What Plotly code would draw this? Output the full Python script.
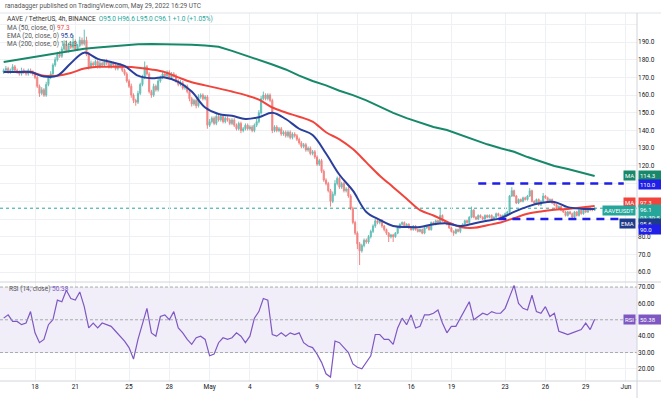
import plotly.graph_objects as go
import pandas as pd

# ---------------- data ----------------
first_candle = "2022-04-15 16:00"
first_open = 173.0
closes = [
    174, 175, 173, 174, 176, 174,
    173, 172, 174, 173, 172, 174,
    173, 172, 170, 165, 161, 163,
    160, 166, 170, 172, 177, 180,
    183, 182, 186, 189, 185, 188,
    187, 190, 186, 188, 191, 189,
    191, 183, 176, 178, 177, 179,
    176, 178, 177, 179, 178, 176,
    178, 177, 175, 177, 176, 174,
    172, 168, 165, 160, 157, 156,
    161, 166, 170, 176, 172, 162,
    160, 165, 163, 168, 170, 172,
    171, 173, 170, 172, 171, 168,
    166, 167, 164, 165, 162, 158,
    155, 157, 154, 159, 160, 158,
    159, 143, 145, 147, 144, 148,
    146, 148, 145, 147, 146, 144,
    146, 143, 141, 144, 140, 141,
    143, 141, 142, 140, 143, 145,
    150, 158, 160, 158, 160, 157,
    140, 142, 140, 141, 138, 139,
    137, 139, 136, 138, 137, 135,
    133, 131, 132, 129, 130, 127,
    128, 125, 121, 123, 117, 112,
    110, 106, 100, 104, 110, 113,
    108, 110, 106, 107, 103, 96,
    88, 82, 76, 72, 75, 78,
    77, 80, 83, 86, 89, 88,
    89, 86, 84, 82, 80, 81,
    80, 82, 85, 87, 88, 86,
    87, 85, 84, 86, 84, 83,
    84, 82, 85, 86, 84, 88,
    87, 89, 88, 92, 89, 88,
    87, 85, 83, 82, 84, 83,
    86, 87, 89, 88, 91, 95,
    91, 90, 92, 91, 90, 92,
    91, 92, 90, 91, 93, 92,
    91, 92, 93, 94, 103, 106,
    103, 99, 101, 100, 102, 101,
    103, 106, 100, 99, 101, 98,
    100, 103, 102, 100, 101, 99,
    98, 96, 97, 95, 94, 92,
    94, 93, 91, 94, 92, 95,
    93, 95, 94, 96, 95, 95,
    96.1,
]
upper_wick = [
    1.0, 1.5, 1.0, 1.0, 1.5, 1.0,
    1.0, 1.0, 1.5, 1.0, 1.0, 1.0,
    1.0, 1.0, 1.0, 1.0, 1.0, 1.5,
    1.0, 1.5, 1.0, 1.5, 1.0, 1.5,
    1.5, 2.0, 1.5, 2.0, 2.0, 1.5,
    2.0, 4.0, 1.5, 1.0, 2.0, 1.5,
    6.0, 2.0, 1.5, 1.5, 1.0, 1.0,
    1.0, 1.5, 1.0, 1.0, 1.5, 1.0,
    1.0, 1.0, 1.5, 1.0, 1.0, 1.0,
    1.0, 1.0, 1.0, 1.5, 1.0, 1.0,
    1.5, 1.0, 1.5, 3.0, 1.0, 1.0,
    1.0, 1.5, 1.0, 1.5, 1.0, 1.0,
    1.5, 1.0, 1.0, 1.0, 1.0, 1.0,
    1.0, 1.5, 1.0, 1.0, 1.0, 1.0,
    1.0, 1.0, 1.0, 1.5, 1.0, 1.0,
    1.0, 1.0, 1.5, 1.0, 1.0, 1.5,
    1.0, 1.0, 1.0, 1.0, 1.0, 1.0,
    1.0, 1.0, 1.0, 1.0, 1.0, 1.0,
    1.0, 1.0, 1.0, 1.0, 1.0, 1.5,
    1.5, 1.5, 2.0, 1.0, 1.0, 1.0,
    1.0, 1.0, 1.0, 1.0, 1.0, 1.0,
    1.0, 1.0, 1.0, 1.0, 1.0, 1.0,
    1.0, 1.0, 1.0, 1.0, 1.0, 1.0,
    1.0, 1.0, 1.0, 1.0, 1.0, 1.0,
    1.0, 1.0, 1.0, 1.5, 2.0, 1.0,
    1.0, 1.0, 1.0, 1.0, 1.0, 1.0,
    1.0, 1.0, 1.0, 1.0, 1.0, 1.0,
    1.0, 1.0, 1.0, 1.0, 1.0, 1.0,
    1.0, 1.0, 0.6, 0.6, 0.6, 0.6,
    0.6, 0.6, 0.6, 0.6, 0.6, 0.6,
    0.6, 0.6, 0.6, 0.6, 0.6, 0.6,
    0.6, 0.6, 0.6, 0.6, 0.6, 0.6,
    0.6, 0.6, 0.6, 4.0, 0.6, 0.6,
    0.6, 0.6, 0.6, 0.6, 0.6, 0.6,
    0.6, 0.6, 0.6, 0.6, 0.6, 2.0,
    0.6, 0.6, 0.6, 0.6, 0.6, 0.6,
    0.6, 0.6, 0.6, 0.6, 0.6, 0.6,
    0.6, 0.6, 0.6, 0.6, 0.6, 2.0,
    0.6, 0.6, 0.6, 0.6, 0.6, 0.6,
    0.6, 1.5, 0.6, 0.6, 0.6, 0.6,
    0.6, 1.7, 0.6, 0.6, 0.6, 0.6,
    0.6, 0.6, 0.6, 0.6, 0.6, 0.6,
    0.6, 0.6, 0.6, 0.6, 0.6, 0.6,
    0.6, 0.6, 0.6, 0.6, 0.6, 0.6,
    0.5,
]
lower_wick = [
    1.0, 1.0, 1.0, 1.0, 1.0, 1.0,
    1.0, 1.0, 1.0, 1.0, 1.0, 1.0,
    1.0, 1.0, 1.0, 1.0, 2.0, 1.0,
    1.0, 1.0, 1.0, 1.0, 1.0, 1.0,
    1.0, 1.0, 1.0, 1.0, 1.0, 1.0,
    1.0, 1.0, 1.0, 1.0, 1.0, 1.0,
    1.0, 1.0, 1.5, 1.0, 1.0, 1.0,
    1.0, 1.0, 1.0, 1.0, 1.0, 1.0,
    1.0, 1.0, 1.0, 1.0, 1.0, 1.0,
    1.0, 1.0, 1.0, 1.5, 1.5, 2.0,
    1.0, 1.0, 1.0, 1.0, 1.0, 1.0,
    1.5, 1.0, 1.0, 1.0, 1.0, 1.0,
    1.0, 1.0, 1.0, 1.0, 1.0, 1.0,
    1.0, 1.0, 1.0, 1.0, 1.0, 1.5,
    1.5, 1.0, 1.5, 1.0, 1.0, 1.0,
    1.0, 2.0, 1.0, 1.0, 1.0, 1.0,
    1.0, 1.0, 1.0, 1.0, 1.0, 1.0,
    1.0, 1.0, 1.0, 1.0, 1.5, 1.0,
    1.0, 1.0, 1.0, 1.0, 1.0, 1.0,
    1.0, 1.0, 1.0, 1.0, 1.0, 1.0,
    1.5, 1.0, 1.0, 1.0, 1.0, 1.0,
    1.0, 1.0, 1.0, 1.0, 1.0, 1.0,
    1.0, 1.0, 1.0, 1.0, 1.0, 1.0,
    1.0, 1.0, 1.0, 1.0, 1.0, 1.0,
    1.0, 1.0, 3.0, 1.0, 1.0, 1.0,
    1.0, 1.0, 1.0, 1.0, 1.0, 1.0,
    1.0, 1.0, 3.0, 8.0, 1.0, 1.0,
    1.0, 1.0, 1.0, 1.0, 1.0, 1.0,
    1.0, 1.0, 1.0, 1.0, 3.0, 1.0,
    3.0, 0.6, 0.6, 0.6, 0.6, 0.6,
    0.6, 0.6, 0.6, 0.6, 0.6, 0.6,
    0.6, 0.6, 0.6, 0.6, 0.6, 0.6,
    0.6, 0.6, 0.6, 0.6, 0.6, 0.6,
    0.6, 0.6, 0.6, 1.5, 0.6, 0.6,
    1.0, 0.6, 0.6, 0.6, 0.6, 0.6,
    0.6, 0.6, 0.6, 0.6, 0.6, 0.6,
    0.6, 0.6, 0.6, 0.6, 0.6, 0.6,
    0.6, 0.6, 0.6, 0.6, 0.6, 0.6,
    0.6, 0.6, 0.6, 0.6, 0.6, 0.6,
    0.6, 0.6, 0.6, 0.6, 0.6, 0.6,
    0.6, 0.6, 0.6, 0.6, 0.6, 0.6,
    0.6, 0.6, 0.6, 0.6, 0.6, 0.6,
    0.6, 0.6, 1.0, 0.6, 0.6, 0.6,
    0.6, 0.6, 0.6, 0.6, 0.6, 0.6,
    0.5,
]

# moving averages, one reading per day (every 6th candle)
ma50_daily = [173, 173, 173, 171, 171, 172.5, 175, 176, 176, 176, 175.5, 174.5,
              173, 170, 167.3, 165.5, 163.8, 162, 160, 157.5, 153, 150.2, 147.8,
              145, 139, 135, 129.5, 122, 114.5, 108, 101.5, 95, 92, 88.5, 85.5,
              85, 86.5, 88, 90.5, 93, 94.3, 95.2, 95.7, 96.5, 97.3]
ema20_daily = [173, 173, 173, 170.5, 171, 178, 184, 180.5, 178.7, 176.5, 171, 169.5,
               170, 167.5, 162, 153, 149.3, 148.3, 146.5, 147.5, 150, 146.5, 141,
               137.5, 127, 115, 106, 94, 89.5, 86, 85.5, 85.5, 87, 87.5, 86,
               87.5, 89, 90.5, 94, 97, 99, 99.6, 96.7, 95.8, 95.6]
ma200_daily = [178.7, 180, 181.2, 182.5, 184, 185.3, 186.2, 186.9, 187.6, 188.3, 188.8,
               188.9, 188.9, 188.8, 188.5, 188, 187.3, 185, 182.5, 180, 177.3, 174.5,
               171, 168, 165.5, 162.5, 160, 157, 153.5, 150, 147, 144.5, 142, 140.3,
               137.5, 135, 132.2, 130, 128, 125, 122.5, 120, 118.3, 116.3, 114.3]

# RSI(14), one reading every 2 candles
rsi_8h = [51, 53, 49, 49, 47, 48, 55, 42, 36, 38, 47, 50, 62, 61, 68, 63, 62, 67, 58,
          45, 48, 45, 48, 47, 46, 43, 40, 37, 33, 26, 38, 47, 57, 42, 40, 52, 53, 50,
          55, 45, 42, 38, 35, 39, 40, 38, 28, 29, 36, 39, 38, 39, 42, 40, 36, 40, 51,
          55, 63, 62, 41, 40, 42, 40, 42, 41, 42, 36, 34, 33, 29, 24, 17, 15, 37, 36,
          33, 30, 23, 21, 20, 24, 28, 41, 41, 38, 38, 35, 45, 51, 47, 53, 45, 46, 53,
          53, 54, 56, 48, 42, 46, 46, 51, 56, 61, 50, 52, 54, 53, 55, 54, 54, 57, 64,
          71, 60, 57, 56, 65, 55, 54, 58, 52, 54, 43, 42, 41, 42, 43, 44, 48, 44, 50.38]

resistance_level = 110.0
support_level = 90.0
resistance_span = ["2022-05-21 00:00", "2022-05-31 20:00"]
support_span = ["2022-05-22 12:00", "2022-05-31 20:00"]

tick_dates = ["2022-04-18", "2022-04-21", "2022-04-25", "2022-04-28", "2022-05-01",
              "2022-05-04", "2022-05-09", "2022-05-12", "2022-05-16", "2022-05-19",
              "2022-05-23", "2022-05-26", "2022-05-29", "2022-06-01"]
tick_labels = ["18", "21", "25", "28", "May", "4", "9", "12", "16", "19", "23", "26", "29", "Jun"]
price_ticks = [60, 70, 80, 90, 100, 110, 120, 130, 140, 150, 160, 170, 180, 190, 200]
rsi_ticks = [20, 30, 40, 50, 60, 70]

last_close = 96.1
ma50_last, ema20_last, ma200_last, rsi_last = 97.3, 95.6, 114.3, 50.38

# ---------------- derived ----------------
times = pd.date_range(first_candle, periods=len(closes), freq="4h")
opens = [first_open] + closes[:-1]
highs = [max(o, c) + u for o, c, u in zip(opens, closes, upper_wick)]
lows = [min(o, c) - l for o, c, l in zip(opens, closes, lower_wick)]
day_times = times[::6]
rsi_times = times[::2]

UP, DOWN = "#26a69a", "#ef5350"
C_MA50, C_EMA, C_MA200 = "#f0443c", "#2a3f9c", "#17886a"
C_RSI = "#7e57c2"
C_LVL = "#1f1fe8"
FONT = "Roboto"
GRID = "#eef0f4"
FS = 6.5

fig = go.Figure()
fig.add_trace(go.Scatter(x=day_times, y=ma200_daily, mode="lines",
                         line=dict(color=C_MA200, width=2), hoverinfo="skip"))
fig.add_trace(go.Candlestick(x=times, open=opens, high=highs, low=lows, close=closes,
                             increasing=dict(line=dict(color=UP, width=1), fillcolor=UP),
                             decreasing=dict(line=dict(color=DOWN, width=1), fillcolor=DOWN),
                             whiskerwidth=0, opacity=0.7))
fig.add_trace(go.Scatter(x=day_times, y=ma50_daily, mode="lines",
                         line=dict(color=C_MA50, width=2, shape="spline"), hoverinfo="skip"))
fig.add_trace(go.Scatter(x=day_times, y=ema20_daily, mode="lines",
                         line=dict(color=C_EMA, width=2, shape="spline"), hoverinfo="skip"))
fig.add_trace(go.Scatter(x=resistance_span, y=[resistance_level] * 2, mode="lines",
                         line=dict(color=C_LVL, width=2.5, dash="8px,6px")))
fig.add_trace(go.Scatter(x=support_span, y=[support_level] * 2, mode="lines",
                         line=dict(color=C_LVL, width=2.5, dash="8px,6px")))
fig.add_trace(go.Scatter(x=rsi_times, y=rsi_8h, mode="lines", yaxis="y2",
                         line=dict(color=C_RSI, width=1.2)))

SPLIT = 0.269
x_range = ["2022-04-15 09:27", "2022-06-01 19:40"]

fig.update_layout(
    width=661, height=398,
    margin=dict(l=0, r=24, t=13, b=17),
    paper_bgcolor="white", plot_bgcolor="white",
    showlegend=False,
    font=dict(family=FONT, size=FS, color="#131722"),
    xaxis=dict(type="date", range=x_range, anchor="y2", rangeslider=dict(visible=False),
               tickvals=tick_dates, ticktext=tick_labels, showgrid=True, gridcolor=GRID,
               zeroline=False, showline=False, ticks="", tickfont=dict(size=FS, color="#131722")),
    yaxis=dict(domain=[SPLIT, 1], range=[54.4, 206.4], side="right", anchor="x",
               tickvals=price_ticks,
               ticktext=["60.0", "70.0", "80.0", "", "", "", "120.0", "130.0", "140.0",
                         "150.0", "160.0", "170.0", "180.0", "190.0", ""],
               showgrid=True, gridcolor=GRID, zeroline=False, ticks="",
               tickfont=dict(size=FS, color="#131722")),
    yaxis2=dict(domain=[0, SPLIT], range=[12.6, 73.07], side="right", anchor="x",
                tickvals=rsi_ticks,
                ticktext=["20.00", "30.00", "40.00", "", "60.00", "70.00"],
                showgrid=True, gridcolor=GRID, zeroline=False, ticks="",
                tickfont=dict(size=FS, color="#131722")),
)

shapes = [
    dict(type="rect", xref="paper", x0=0, x1=1, yref="y2", y0=30, y1=70,
         fillcolor="rgba(126,87,194,0.10)", line=dict(width=0), layer="below"),
]
for lv in (30, 50, 70):
    shapes.append(dict(type="line", xref="paper", x0=0, x1=1, yref="y2", y0=lv, y1=lv,
                       line=dict(color="#9598a1", width=0.8, dash="3px,2px")))
shapes += [
    dict(type="line", xref="paper", x0=0, x1=1, yref="y", y0=last_close, y1=last_close,
         line=dict(color=UP, width=1, dash="dot"), layer="below"),
    dict(type="line", xref="paper", x0=0, x1=1.04, yref="paper", y0=SPLIT, y1=SPLIT,
         line=dict(color="#d1d4dc", width=1)),
    dict(type="line", xref="paper", x0=0, x1=1.04, yref="paper", y0=0, y1=0,
         line=dict(color="#d1d4dc", width=1)),
    dict(type="line", xref="paper", x0=0, x1=1.04, yref="paper", y0=1, y1=1,
         line=dict(color="#e0e3eb", width=1)),
    dict(type="line", xref="paper", x0=1, x1=1, yref="paper", y0=-0.05, y1=1,
         line=dict(color="#d1d4dc", width=1)),
]
fig.update_layout(shapes=shapes)

ann = []

def txt(x_px, y_px, text, color="#555", size=FS):
    ann.append(dict(xref="paper", yref="paper", x=x_px / 637, y=(381 - y_px) / 368,
                    xanchor="left", yanchor="middle", text=text, showarrow=False,
                    font=dict(size=size, color=color, family=FONT)))

txt(3, 6, "ranadagger published on TradingView.com, May 29, 2022 16:29 UTC", "#555")
txt(5, 19, "AAVE / TetherUS, 4h, BINANCE  "
          f"<span style='color:{UP}'>O95.0 H96.6 L95.0 C96.1 +1.0 (+1.05%)</span>", "#333")
txt(5, 28, f"MA (50, close, 0) <span style='color:{C_MA50}'>{ma50_last}</span>")
txt(5, 36, f"EMA (20, close, 0) <span style='color:{C_EMA}'>{ema20_last}</span>")
txt(5, 44, f"MA (200, close, 0) <span style='color:{C_MA200}'>{ma200_last}</span>")
txt(7, 289, f"RSI (14, close) <span style='color:{C_RSI}'>{rsi_last}</span>")

def box(text, y, yref, color, shift=0, left=True, width=None):
    d = dict(xref="paper", x=1, xanchor="left" if left else "right",
             xshift=1 if left else -1, yref=yref, y=y, yshift=shift, yanchor="middle",
             text=text, showarrow=False, bgcolor=color, borderpad=1,
             font=dict(size=6, color="white", family=FONT), align="left")
    if width:
        d["width"] = width
    ann.append(d)

box(f"{ma200_last}", ma200_last, "y", C_MA200, 1, True, 20)
box("MA", ma200_last, "y", C_MA200, 1, False)
box(f"{resistance_level:.1f}", resistance_level, "y", C_LVL, -1, True, 20)
box(f"{ma50_last}", ma50_last, "y", C_MA50, 4, True, 20)
box("MA", ma50_last, "y", C_MA50, 4, False)
box(f"{last_close}<br>03:30:5", last_close, "y", UP, -5, True, 20)
box("AAVEUSDT", last_close, "y", UP, -2, False)
box(f"{ema20_last}", ema20_last, "y", "#1e3a8a", -14, True, 20)
box("EMA", ema20_last, "y", "#1e3a8a", -14, False)
box(f"{support_level:.1f}", support_level, "y", C_LVL, -10, True, 20)
box(f"{rsi_last}", rsi_last, "y2", C_RSI, 0, True, 20)
box("RSI", rsi_last, "y2", C_RSI, 0, False)

fig.update_layout(annotations=ann)
fig.write_html("out.html", config={"displayModeBar": False},
               post_script="document.body.style.margin='0';document.body.style.overflow='hidden';")
